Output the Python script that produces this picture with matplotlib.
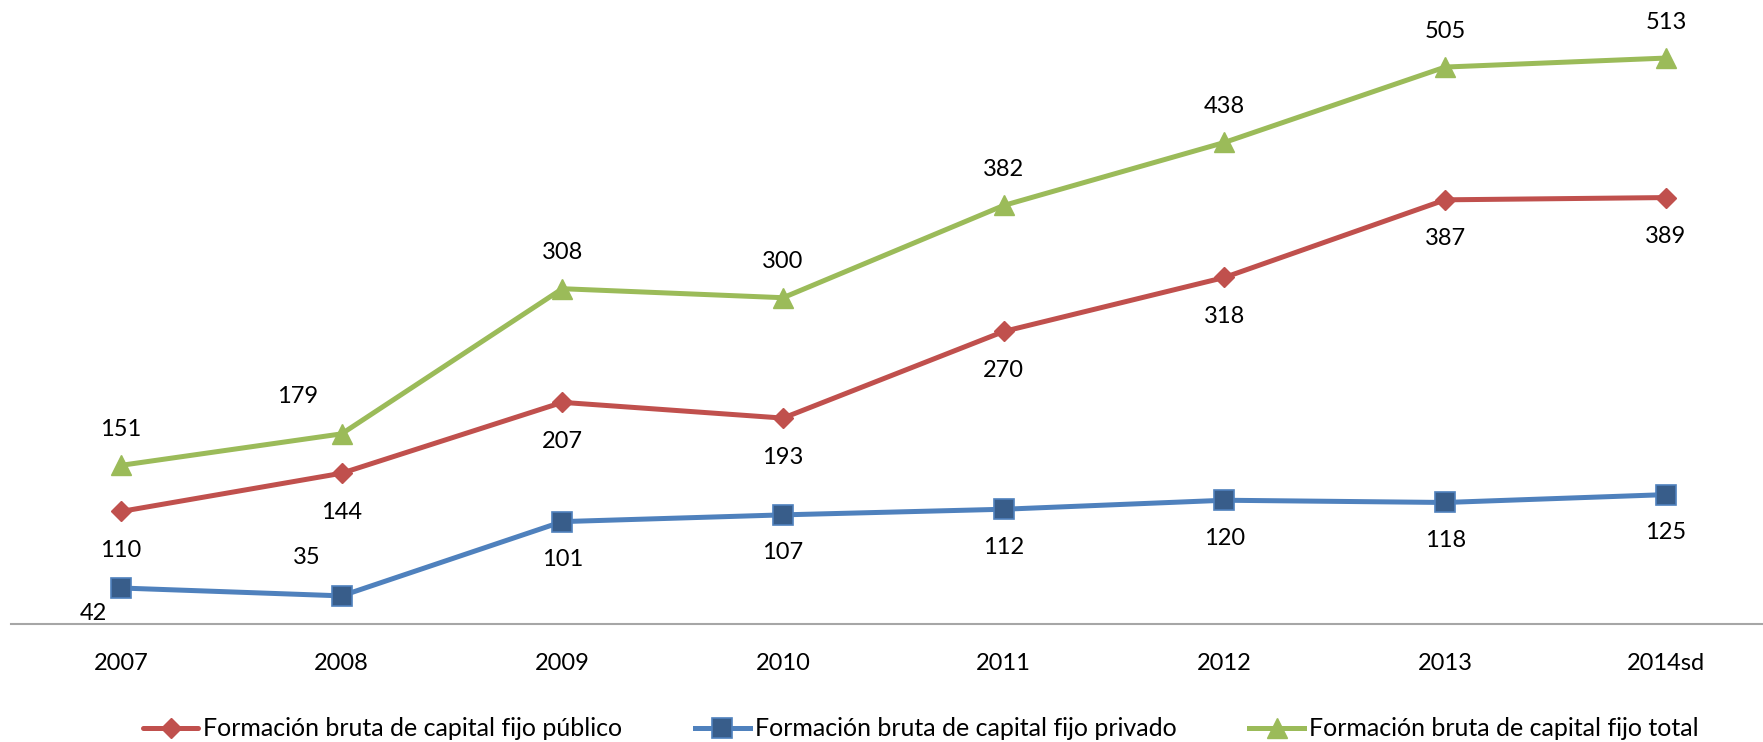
import matplotlib
matplotlib.use("Agg")
import matplotlib.pyplot as plt

years = ["2007", "2008", "2009", "2010", "2011", "2012", "2013", "2014sd"]
publico = [110, 144, 207, 193, 270, 318, 387, 389]
privado = [42, 35, 101, 107, 112, 120, 118, 125]
total = [151, 179, 308, 300, 382, 438, 505, 513]

labels = ["Formación bruta de capital fijo público",
          "Formación bruta de capital fijo privado",
          "Formación bruta de capital fijo total"]

plt.rcParams['font.family'] = ['Lato', 'DejaVu Sans']

W, H = 1763, 742
fig = plt.figure(figsize=(W / 100, H / 100), dpi=100)
ax = fig.add_axes([11 / W, 118 / H, (W - 11) / W, 624 / H])

x = list(range(len(years)))

red, blue, green = '#C0504D', '#4F81BD', '#9BBB59'

l1, = ax.plot(x, publico, color=red, lw=3.6, marker='D', ms=10,
              mfc=red, mec=red, solid_capstyle='round')
l2, = ax.plot(x, privado, color=blue, lw=3.6, marker='s', ms=14,
              mfc='#385D8A', mec='#4F81BD', mew=1.2)
l3, = ax.plot(x, total, color=green, lw=3.6, marker='^', ms=14,
              mfc=green, mec=green)

# label offsets in pixels (default per series, a few moved like the original)
def put_labels(vals, dy, special=None):
    special = special or {}
    for i, v in enumerate(vals):
        off = special.get(i, (0, dy))
        ax.annotate(str(v), (i, v), xytext=off, textcoords='offset pixels',
                    ha='center', va='center', fontsize=17, color='black')

put_labels(publico, -39)
put_labels(privado, -38, {0: (-28, -26), 1: (-35, 38)})
put_labels(total, 36, {1: (-44, 37)})

ax.set_xlim(-0.498, 7.44)
ax.set_ylim(10, 564.6)
ax.set_xticks(x)
ax.set_xticklabels(years, fontsize=17)
ax.set_yticks([])
ax.tick_params(axis='x', length=0, pad=21)
for s in ['top', 'right', 'left']:
    ax.spines[s].set_visible(False)
ax.spines['bottom'].set_color('#A6A6A6')
ax.spines['bottom'].set_linewidth(1.5)

fig.legend([l1, l2, l3], labels, ncol=3, loc='center',
           bbox_to_anchor=(921 / W, 1 - 729 / H), frameon=False,
           fontsize=18, handlelength=2.2, handletextpad=0.2,
           columnspacing=2.9, borderpad=0)

fig.savefig("out.png", dpi=100)
